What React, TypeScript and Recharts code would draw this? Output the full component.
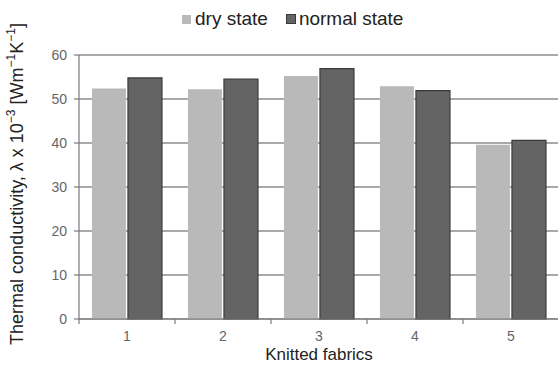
import React from "react";
import {
  BarChart,
  Bar,
  XAxis,
  YAxis,
  CartesianGrid,
  Legend,
} from "recharts";

const fabrics = ["1", "2", "3", "4", "5"];
const dryState = [52.4, 52.2, 55.2, 52.9, 39.6];
const normalState = [54.8, 54.5, 56.9, 51.9, 40.6];
const yTicks = [0, 10, 20, 30, 40, 50, 60];

const DRY = "#b9b9b9";
const NORMAL = "#646464";
const AXIS = "#7a7a7a";
const FONT = "'Liberation Sans', Arial, sans-serif";

const data = fabrics.map((name, i) => ({
  name,
  dry: dryState[i],
  normal: normalState[i],
}));

// labels centred in band, tick marks on band boundaries
const XTick = (props: any) => {
  const { x, y, payload } = props;
  const edge = x - (payload.offset || 0);
  return (
    <g>
      <line x1={edge} x2={edge} y1={y} y2={y + 5} stroke={AXIS} strokeWidth={1.2} />
      <text x={x} y={y + 22} textAnchor="middle" fill="#666" fontSize={14} fontFamily={FONT}>
        {payload.value}
      </text>
    </g>
  );
};

const YLabel = () => (
  <text
    transform="translate(17, 184) rotate(-90)"
    textAnchor="middle"
    dominantBaseline="central"
    fontSize={18}
    fill="#222"
    fontFamily={FONT}
  >
    Thermal conductivity, λ x 10
    <tspan dy={-6} fontSize={12}>−3</tspan>
    <tspan dy={6}> [Wm</tspan>
    <tspan dy={-6} fontSize={12}>−1</tspan>
    <tspan dy={6}>K</tspan>
    <tspan dy={-6} fontSize={12}>−1</tspan>
    <tspan dy={6}>]</tspan>
  </text>
);

const XLabel = (props: any) => {
  const { viewBox } = props;
  return (
    <text
      x={viewBox.x + viewBox.width / 2}
      y={360}
      textAnchor="middle"
      fontSize={17}
      fill="#222"
      fontFamily={FONT}
    >
      Knitted fabrics
    </text>
  );
};

const LegendContent = () => (
  <div style={{ display: "flex", alignItems: "center", fontFamily: FONT, fontSize: 19, lineHeight: "18px", color: "#222" }}>
    <span style={{ width: 9, height: 9, background: DRY, marginRight: 4 }} />
    <span>dry state</span>
    <span style={{ width: 10, height: 10, background: NORMAL, marginLeft: 18, marginRight: 3, border: "1px solid #3a3a3a", boxSizing: "border-box" }} />
    <span>normal state</span>
  </div>
);

export default function App() {
  return (
    <div style={{ position: "absolute", left: 0, top: 0, width: 558, height: 365, overflow: "hidden", background: "#fff" }}>
      <BarChart
        width={570}
        height={365}
        data={data}
        margin={{ top: 37, right: 11, bottom: 0, left: 19 }}
        barCategoryGap="13.5%"
        barGap={2}
        style={{ fontFamily: FONT }}
      >
        <CartesianGrid vertical={false} stroke="#8c8c8c" strokeWidth={1.5} />
        <XAxis
          dataKey="name"
          height={46}
          axisLine={{ stroke: AXIS, strokeWidth: 1.2 }}
          tickLine={false}
          tickSize={0}
          tickMargin={0}
          interval={0}
          tick={<XTick />}
          label={<XLabel />}
        />
        <YAxis
          width={60}
          domain={[0, 60]}
          ticks={yTicks}
          interval={0}
          axisLine={{ stroke: AXIS, strokeWidth: 1.2 }}
          tickLine={{ stroke: AXIS, strokeWidth: 1.2 }}
          tickSize={5}
          tickMargin={7}
          tick={{ fill: "#666", fontSize: 14, fontFamily: FONT }}
          label={<YLabel />}
        />
        <Legend
          verticalAlign="top"
          content={<LegendContent />}
          wrapperStyle={{ position: "absolute", top: 10, left: 182, width: "auto" }}
        />
        <Bar dataKey="dry" name="dry state" fill={DRY} isAnimationActive={false} />
        <Bar dataKey="normal" name="normal state" fill={NORMAL} stroke="#3a3a3a" strokeWidth={1.2} isAnimationActive={false} />
      </BarChart>
    </div>
  );
}
